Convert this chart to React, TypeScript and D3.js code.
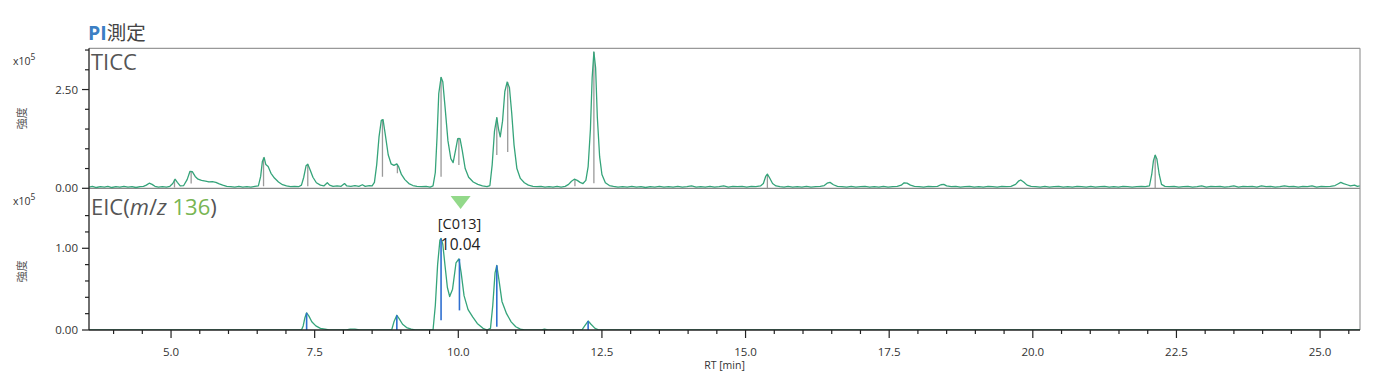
import React from 'react';
import * as d3 from 'd3';

// ---- data (RT in min, intensity in x10^5) ----
const ticc: [number, number][] = [
  [3.57,0.03],[3.63,0.05],[3.7,0.02],[3.77,0.04],[3.84,0.03],[3.9,0.05],[3.97,0.02],[4.04,0.04],[4.11,0.03],[4.18,0.05],[4.25,0.03],[4.32,0.04],[4.39,0.02],[4.46,0.04],[4.52,0.05],
  [4.57,0.08],[4.62,0.13],[4.67,0.1],[4.72,0.05],[4.78,0.03],[4.85,0.04],[4.92,0.03],[4.98,0.05],
  [5.03,0.12],[5.07,0.23],[5.11,0.15],[5.16,0.06],[5.22,0.07],[5.28,0.22],[5.33,0.43],[5.37,0.42],[5.42,0.3],[5.47,0.23],[5.53,0.2],[5.6,0.18],[5.66,0.16],[5.72,0.17],[5.78,0.15],[5.84,0.11],[5.9,0.08],[5.97,0.05],[6.04,0.04],[6.11,0.03],[6.18,0.05],[6.25,0.03],[6.32,0.04],[6.39,0.03],[6.46,0.05],[6.52,0.06],
  [6.56,0.3],[6.59,0.68],[6.62,0.78],[6.65,0.6],[6.69,0.55],[6.74,0.38],[6.8,0.26],[6.87,0.16],[6.94,0.09],[7.01,0.06],[7.08,0.04],[7.15,0.05],[7.22,0.04],[7.27,0.08],
  [7.31,0.28],[7.35,0.57],[7.38,0.61],[7.42,0.47],[7.47,0.28],[7.53,0.14],[7.6,0.08],[7.66,0.06],[7.72,0.14],[7.76,0.08],[7.82,0.05],[7.89,0.06],[7.96,0.05],[8.02,0.12],[8.06,0.06],[8.13,0.05],[8.2,0.07],[8.27,0.05],[8.33,0.09],[8.38,0.05],[8.45,0.07],[8.5,0.06],
  [8.54,0.15],[8.58,0.6],[8.62,1.3],[8.66,1.72],[8.69,1.74],[8.73,1.35],[8.78,0.85],[8.83,0.62],[8.88,0.58],[8.93,0.62],[8.96,0.55],[9.01,0.35],[9.07,0.22],[9.14,0.12],[9.21,0.07],[9.28,0.05],[9.36,0.04],[9.44,0.05],[9.51,0.03],[9.56,0.06],
  [9.6,0.4],[9.63,1.3],[9.66,2.4],[9.7,2.81],[9.73,2.7],[9.77,2.05],[9.82,1.2],[9.87,0.75],[9.91,0.65],[9.95,0.95],[9.99,1.26],[10.03,1.26],[10.07,0.95],[10.12,0.5],[10.18,0.28],[10.26,0.16],[10.34,0.1],[10.42,0.06],[10.5,0.04],[10.55,0.07],
  [10.59,0.6],[10.63,1.45],[10.67,1.79],[10.7,1.5],[10.73,1.3],[10.77,1.7],[10.81,2.45],[10.85,2.69],[10.89,2.55],[10.93,1.9],[10.97,1.1],[11.02,0.5],[11.08,0.25],[11.15,0.14],[11.22,0.08],[11.3,0.05],[11.37,0.04],[11.44,0.05],[11.51,0.03],[11.58,0.04],[11.65,0.03],[11.72,0.05],[11.79,0.03],[11.86,0.05],[11.92,0.1],
  [11.97,0.18],[12.02,0.23],[12.07,0.2],[12.12,0.15],[12.17,0.12],[12.22,0.2],
  [12.26,0.55],[12.3,1.5],[12.33,2.8],[12.36,3.45],[12.39,3.05],[12.42,1.8],[12.46,0.8],[12.5,0.35],[12.56,0.14],[12.63,0.07],[12.7,0.05],
  [12.78,0.03],[12.86,0.04],[12.94,0.03],[13.02,0.05],[13.1,0.03],[13.18,0.04],[13.26,0.02],[13.34,0.04],[13.42,0.03],[13.5,0.05],[13.58,0.03],[13.66,0.04],[13.74,0.03],[13.82,0.05],[13.9,0.03],[13.98,0.04],[14.06,0.06],[14.14,0.03],[14.22,0.04],[14.3,0.03],[14.38,0.05],[14.46,0.03],[14.54,0.04],[14.62,0.06],[14.7,0.03],[14.78,0.05],[14.86,0.04],[14.94,0.05],[15.02,0.03],[15.1,0.05],[15.18,0.04],[15.26,0.06],
  [15.31,0.12],[15.35,0.3],[15.38,0.36],[15.42,0.26],[15.47,0.12],[15.53,0.06],[15.6,0.04],[15.67,0.03],[15.74,0.05],[15.82,0.03],[15.9,0.04],[15.98,0.03],[16.06,0.05],[16.14,0.03],[16.22,0.04],[16.3,0.05],[16.37,0.07],[16.42,0.13],[16.47,0.15],[16.53,0.09],[16.6,0.05],[16.68,0.04],[16.76,0.03],[16.84,0.05],[16.92,0.03],[17.0,0.04],[17.08,0.05],[17.16,0.03],[17.24,0.04],[17.32,0.03],[17.4,0.05],[17.48,0.03],[17.56,0.04],[17.64,0.05],[17.71,0.08],[17.76,0.14],[17.81,0.13],[17.87,0.08],[17.94,0.05],[18.02,0.04],[18.1,0.03],[18.18,0.05],[18.26,0.04],[18.34,0.05],[18.4,0.09],[18.45,0.1],[18.5,0.06],[18.58,0.04],[18.66,0.05],[18.74,0.03],[18.82,0.04],[18.9,0.05],[18.98,0.03],[19.06,0.04],[19.14,0.03],[19.22,0.05],[19.3,0.04],[19.38,0.03],[19.46,0.05],[19.54,0.04],[19.62,0.05],[19.7,0.1],[19.75,0.18],[19.79,0.21],[19.84,0.16],[19.9,0.08],[19.97,0.05],
  [20.05,0.04],[20.13,0.03],[20.21,0.05],[20.29,0.03],[20.37,0.04],[20.45,0.05],[20.53,0.03],[20.61,0.04],[20.69,0.03],[20.77,0.05],[20.85,0.04],[20.93,0.03],[21.01,0.05],[21.09,0.03],[21.17,0.04],[21.25,0.05],[21.33,0.03],[21.41,0.04],[21.49,0.03],[21.57,0.05],[21.65,0.04],[21.73,0.03],[21.81,0.04],[21.89,0.05],[21.96,0.04],[22.03,0.06],
  [22.07,0.35],[22.1,0.7],[22.13,0.84],[22.16,0.74],[22.2,0.35],[22.24,0.1],[22.3,0.05],[22.38,0.04],[22.46,0.05],[22.54,0.03],[22.62,0.04],[22.7,0.05],[22.78,0.03],[22.86,0.04],[22.94,0.06],[23.02,0.03],[23.1,0.05],[23.18,0.04],[23.26,0.05],[23.34,0.03],[23.42,0.04],[23.5,0.06],[23.58,0.03],[23.66,0.05],[23.74,0.04],[23.82,0.05],[23.9,0.03],[23.98,0.06],[24.06,0.04],[24.14,0.05],[24.22,0.03],[24.3,0.04],[24.38,0.06],[24.46,0.04],[24.54,0.05],[24.62,0.03],[24.7,0.05],[24.78,0.04],[24.86,0.06],[24.94,0.03],[25.02,0.05],[25.1,0.04],[25.18,0.05],[25.26,0.07],[25.31,0.11],[25.36,0.15],[25.41,0.12],[25.47,0.09],[25.53,0.06],[25.6,0.08],[25.65,0.05],[25.69,0.06],
];

// TICC peak drop lines: [RT, apex, base]
const ticcPeaks: [number, number, number][] = [
  [5.06,0.22,0.02],[5.35,0.44,0.12],[6.61,0.78,0.05],[7.38,0.61,0.05],[8.68,1.74,0.29],[8.94,0.61,0.38],
  [9.70,2.81,0.29],[10.01,1.28,0.59],[10.67,1.79,0.84],[10.86,2.69,0.92],[12.03,0.22,0.05],[12.36,3.45,0.13],
  [15.38,0.36,0.0],[22.13,0.84,0.0],
];

const eic: [number, number][] = [
  [3.57,0],[7.27,0],[7.3,0.05],[7.33,0.15],[7.36,0.21],[7.4,0.17],[7.45,0.1],[7.52,0.05],[7.6,0.02],[7.68,0.01],[7.75,0],
  [8.05,0],[8.12,0.01],[8.2,0.01],[8.28,0],
  [8.84,0],[8.88,0.1],[8.93,0.18],[8.97,0.14],[9.03,0.07],[9.1,0.03],[9.18,0.01],[9.25,0],
  [9.56,0],[9.6,0.3],[9.64,0.8],[9.68,1.1],[9.7,1.12],[9.73,1.05],[9.77,0.78],[9.81,0.52],[9.85,0.41],[9.9,0.5],[9.96,0.82],[10.01,0.87],[10.05,0.7],[10.1,0.42],[10.17,0.25],[10.25,0.16],[10.33,0.08],[10.43,0.02],[10.5,0],
  [10.56,0.02],[10.6,0.3],[10.64,0.7],[10.67,0.79],[10.71,0.6],[10.76,0.35],[10.84,0.2],[10.92,0.1],[11.0,0.04],[11.08,0.01],[11.15,0],
  [11.45,0],[11.5,0.01],[11.56,0],
  [12.15,0],[12.2,0.05],[12.26,0.11],[12.31,0.07],[12.38,0.02],[12.45,0],[25.69,0],
];

// EIC peak markers: [RT, apex, base]
const eicPeaks: [number, number, number][] = [
  [7.36,0.21,0],[8.93,0.18,0],[9.70,1.12,0.12],[10.02,0.87,0.24],[10.67,0.79,0.04],[12.26,0.11,0],
];

const xTickValues = [5.0, 7.5, 10.0, 12.5, 15.0, 17.5, 20.0, 22.5, 25.0];
const xTickLabels = ['5.0', '7.5', '10.0', '12.5', '15.0', '17.5', '20.0', '22.5', '25.0'];
const topTickValues = [0, 2.5];
const topTickLabels = ['0.00', '2.50'];
const botTickValues = [0, 1.0];
const botTickLabels = ['0.00', '1.00'];

const annotationRT = 10.04;
const annotationLines = ['[C013]', '10.04'];

const FONT = "'Open Sans', 'Noto Sans CJK JP', sans-serif";
const GREEN = '#35a47a';
const BLUE = '#2f6fd0';

export default function App() {
  const L = 89, R = 1360;
  const topY0 = 188.3, topY1 = 48.3;
  const botY0 = 330, botY1 = 188.3;

  const x = d3.scaleLinear().domain([3.572, 25.695]).range([L, R]);
  const yTop = d3.scaleLinear().domain([0, 3.544]).range([topY0, topY1]);
  const yBot = d3.scaleLinear().domain([0, 1.734]).range([botY0, botY1]);

  const topLine = d3.line<[number, number]>().x(d => x(d[0])).y(d => yTop(d[1]));
  const botLine = d3.line<[number, number]>().x(d => x(d[0])).y(d => yBot(d[1]));

  const xMinor = d3.range(4.0, 25.6, 0.5).filter(t => !xTickValues.some(m => Math.abs(m - t) < 1e-6));
  const topMinor = d3.range(0, 3.51, 0.5);
  const botMinor = d3.range(0, 1.41, 0.2);

  const ax = x(annotationRT);

  return (
    <svg width={1384} height={386} style={{ position: 'absolute', left: 0, top: 0, background: '#fff' }} fontFamily={FONT}>
      <rect x={0} y={0} width={1384} height={386} fill="#fff" />
      {/* title */}
      <text x={88} y={40} fontSize={19.5}>
        <tspan fill="#3b7fc4" fontWeight="bold">PI</tspan>
        <tspan fill="#444">測定</tspan>
      </text>

      <defs>
        <clipPath id="clipTop"><rect x={L} y={topY1} width={R - L} height={topY0 - topY1 + 1} /></clipPath>
        <clipPath id="clipBot"><rect x={L} y={botY1} width={R - L} height={botY0 - botY1} /></clipPath>
      </defs>

      {/* frames */}
      <line x1={L} x2={R} y1={topY1} y2={topY1} stroke="#999" strokeWidth={1.2} />
      <line x1={R} x2={R} y1={topY1} y2={botY0} stroke="#999" strokeWidth={1.2} />
      <line x1={L} x2={R} y1={topY0} y2={topY0} stroke="#8a8a8a" strokeWidth={1.2} />

      {/* TICC trace */}
      <g clipPath="url(#clipTop)">
        {ticcPeaks.map((p, i) => (
          <line key={i} x1={x(p[0])} x2={x(p[0])} y1={yTop(p[1])} y2={yTop(p[2])} stroke="#9a9a9a" strokeWidth={1.3} />
        ))}
        <path d={topLine(ticc) || ''} fill="none" stroke={GREEN} strokeWidth={1.3} strokeLinejoin="round" />
      </g>

      {/* EIC trace */}
      <g clipPath="url(#clipBot)">
        <path d={botLine(eic) || ''} fill="none" stroke={GREEN} strokeWidth={1.3} strokeLinejoin="round" />
        {eicPeaks.map((p, i) => (
          <line key={i} x1={x(p[0])} x2={x(p[0])} y1={yBot(p[1])} y2={yBot(p[2])} stroke={BLUE} strokeWidth={1.6} />
        ))}
      </g>

      {/* left axis */}
      <line x1={L} x2={L} y1={topY1} y2={botY0} stroke="#222" strokeWidth={1.3} />
      {topMinor.map((v, i) => (
        <line key={'tm' + i} x1={L - (topTickValues.includes(v) ? 7 : 4)} x2={L} y1={yTop(v)} y2={yTop(v)} stroke="#222" strokeWidth={1.2} />
      ))}
      {topTickValues.map((v, i) => (
        <text key={'tl' + i} x={L - 11} y={yTop(v)} dy="0.35em" textAnchor="end" fontSize={11.5} fill="#333">{topTickLabels[i]}</text>
      ))}
      {botMinor.map((v, i) => (
        <line key={'bm' + i} x1={L - (botTickValues.some(b => Math.abs(b - v) < 1e-6) ? 7 : 4)} x2={L} y1={yBot(v)} y2={yBot(v)} stroke="#222" strokeWidth={1.2} />
      ))}
      {botTickValues.map((v, i) => (
        <text key={'bl' + i} x={L - 11} y={yBot(v)} dy="0.35em" textAnchor="end" fontSize={11.5} fill="#333">{botTickLabels[i]}</text>
      ))}

      {/* bottom axis */}
      <line x1={L} x2={R} y1={botY0} y2={botY0} stroke="#222" strokeWidth={1.3} />
      {xMinor.map((t, i) => (
        <line key={'xm' + i} x1={x(t)} x2={x(t)} y1={botY0} y2={botY0 + 4} stroke="#222" strokeWidth={1.2} />
      ))}
      {xTickValues.map((t, i) => (
        <g key={'xt' + i}>
          <line x1={x(t)} x2={x(t)} y1={botY0} y2={botY0 + 8} stroke="#222" strokeWidth={1.2} />
          <text x={x(t)} y={botY0 + 22} dy="0.35em" textAnchor="middle" fontSize={11.5} fill="#333">{xTickLabels[i]}</text>
        </g>
      ))}
      <text x={(L + R) / 2} y={369} textAnchor="middle" fontSize={10.5} fill="#333">RT [min]</text>

      {/* multipliers and y labels */}
      <text x={13} y={65} fontSize={10.5} fill="#333">x10<tspan dy={-5} fontSize={8.5}>5</tspan></text>
      <text x={13} y={205} fontSize={10.5} fill="#333">x10<tspan dy={-5} fontSize={8.5}>5</tspan></text>
      <text transform={`translate(26,${(topY0 + topY1) / 2}) rotate(-90)`} textAnchor="middle" fontSize={11} fill="#555">強度</text>
      <text transform={`translate(26,${(botY0 + botY1) / 2 + 12}) rotate(-90)`} textAnchor="middle" fontSize={11} fill="#555">強度</text>

      {/* panel labels */}
      <text x={91} y={70} fontSize={22} fill="#555">TICC</text>
      <text x={91} y={215} fontSize={22} fill="#555">
        EIC(<tspan fontStyle="italic">m</tspan>/<tspan fontStyle="italic">z</tspan> <tspan fill="#78b552">136</tspan>)
      </text>

      {/* annotation */}
      <path d={`M${ax - 10},${196} L${ax + 10},${196} L${ax},${209} Z`} fill="#93d98a" />
      <text x={ax - 1} y={229} textAnchor="middle" fontSize={14.5} fill="#222">{annotationLines[0]}</text>
      <text x={ax} y={250} textAnchor="middle" fontSize={15.5} fill="#222">{annotationLines[1]}</text>
    </svg>
  );
}
